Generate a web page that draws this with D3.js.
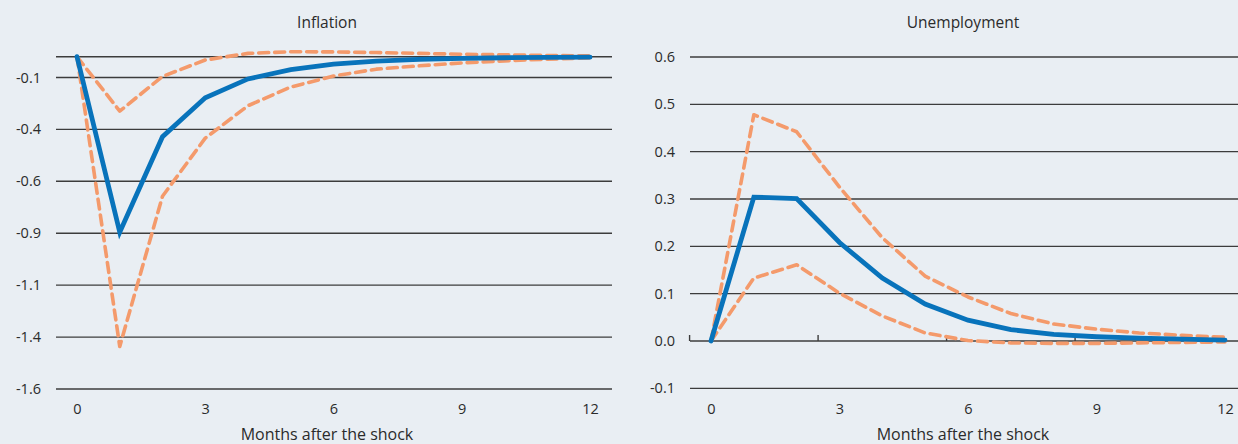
<!DOCTYPE html>
<html>
<head>
<meta charset="utf-8">
<script src="https://cdn.jsdelivr.net/npm/d3@7"></script>
<style>
  html, body { margin: 0; padding: 0; background: #e9eef3; }
  svg { display: block; }
  text { font-family: "Open Sans", "Noto Sans", sans-serif; fill: #2b2b2b; }
</style>
</head>
<body>
<svg id="chart" width="1238" height="444"></svg>
<script>
// Months after the shock
const months = [0, 1, 2, 3, 4, 5, 6, 7, 8, 9, 10, 11, 12];
const xTickValues = [0, 3, 6, 9, 12];

// Inflation response: point estimate and confidence bands
const inflationMid   = [0, -0.845, -0.385, -0.198, -0.107, -0.062, -0.036, -0.021, -0.013, -0.008, -0.005, -0.003, -0.002];
const inflationUpper = [0, -0.262, -0.095, -0.016, 0.016, 0.024, 0.023, 0.020, 0.016, 0.012, 0.009, 0.006, 0.004];
const inflationLower = [0, -1.395, -0.672, -0.392, -0.236, -0.146, -0.093, -0.060, -0.044, -0.030, -0.020, -0.012, -0.006];

// Unemployment response: point estimate and confidence bands
const unempMid   = [0, 0.304, 0.301, 0.208, 0.133, 0.078, 0.044, 0.024, 0.014, 0.009, 0.006, 0.004, 0.002];
const unempUpper = [0, 0.478, 0.442, 0.325, 0.218, 0.137, 0.093, 0.058, 0.036, 0.025, 0.017, 0.012, 0.008];
const unempLower = [0, 0.133, 0.161, 0.101, 0.053, 0.017, 0.001, -0.004, -0.005, -0.005, -0.004, -0.003, -0.002];

// Y gridlines and their labels
const inflationTicks  = [-0.1, -0.35, -0.6, -0.85, -1.1, -1.35, -1.6];
const inflationLabels = ["-0.1", "-0.4", "-0.6", "-0.9", "-1.1", "-1.4", "-1.6"];
const unempTicks  = [0.6, 0.5, 0.4, 0.3, 0.2, 0.1, 0.0, -0.1];
const unempLabels = ["0.6", "0.5", "0.4", "0.3", "0.2", "0.1", "0.0", "-0.1"];

const BLUE = "#0873bb";
const ORANGE = "#f49a6b";
const GRID = "#3c3c3c";
const FONT = "'Open Sans', 'Noto Sans', sans-serif";

const svg = d3.select("#chart");

function panel(opts) {
  const g = svg.append("g");
  const x = d3.scaleLinear().domain([0, 12]).range(opts.xRange);
  const y = d3.scaleLinear().domain(opts.yDomain).range(opts.yRange);

  // horizontal gridlines
  g.selectAll("line.grid")
    .data(opts.gridValues)
    .join("line")
    .attr("class", "grid")
    .attr("x1", opts.gridX[0]).attr("x2", opts.gridX[1])
    .attr("y1", d => y(d)).attr("y2", d => y(d))
    .attr("stroke", GRID).attr("stroke-width", 1.4);

  // y tick labels
  g.selectAll("text.ylab")
    .data(opts.yTicks)
    .join("text")
    .attr("class", "ylab")
    .attr("x", opts.yLabelX)
    .attr("y", d => y(d))
    .attr("dy", "0.35em")
    .attr("text-anchor", "end")
    .style("font-size", "14.5px")
    .text((d, i) => opts.yLabels[i]);

  // x axis tick labels
  const xAxis = d3.axisBottom(x).tickValues(xTickValues).tickSize(0).tickPadding(0);
  const ax = g.append("g").attr("transform", `translate(0,${opts.xLabelY})`).call(xAxis);
  ax.select(".domain").remove();
  ax.selectAll("text")
    .style("font-size", "14.5px")
    .style("font-family", FONT)
    .attr("fill", "#2b2b2b");

  // category tick marks on the zero line
  if (opts.zeroTicks) {
    g.selectAll("line.ztick")
      .data(opts.zeroTicks)
      .join("line")
      .attr("x1", d => x(d)).attr("x2", d => x(d))
      .attr("y1", y(0)).attr("y2", y(0) - 6)
      .attr("stroke", GRID).attr("stroke-width", 1.4);
  }

  // title and axis title
  g.append("text")
    .attr("x", opts.center).attr("y", 28)
    .attr("text-anchor", "middle")
    .style("font-size", "15.5px")
    .text(opts.title);
  g.append("text")
    .attr("x", opts.center).attr("y", 440)
    .attr("text-anchor", "middle")
    .style("font-size", "16px")
    .text("Months after the shock");

  const line = d3.line().x((d, i) => x(months[i])).y(d => y(d));

  [opts.upper, opts.lower].forEach(series => {
    g.append("path")
      .datum(series)
      .attr("d", line)
      .attr("fill", "none")
      .attr("stroke", ORANGE)
      .attr("stroke-width", 3.6)
      .attr("stroke-dasharray", "10,6")
      .attr("stroke-linecap", "round")
      .attr("stroke-linejoin", "round");
  });

  g.append("path")
    .datum(opts.mid)
    .attr("d", line)
    .attr("fill", "none")
    .attr("stroke", BLUE)
    .attr("stroke-width", 4.8)
    .attr("stroke-linejoin", "miter")
    .attr("stroke-linecap", "round");
}

panel({
  title: "Inflation",
  center: 327,
  xRange: [77, 590],
  yDomain: [0, -1.6],
  yRange: [56.7, 389],
  gridValues: [0].concat(inflationTicks),
  gridX: [56, 612],
  yTicks: inflationTicks,
  yLabels: inflationLabels,
  yLabelX: 41,
  xLabelY: 404,
  upper: inflationUpper,
  mid: inflationMid,
  lower: inflationLower
});

panel({
  title: "Unemployment",
  center: 963,
  xRange: [711, 1225],
  yDomain: [0, 0.6],
  yRange: [341, 57],
  gridValues: unempTicks,
  gridX: [690, 1238],
  yTicks: unempTicks,
  yLabels: unempLabels,
  yLabelX: 675,
  xLabelY: 404,
  zeroTicks: [-0.5, 2.5, 5.5, 8.5, 11.5],
  upper: unempUpper,
  mid: unempMid,
  lower: unempLower
});
</script>
</body>
</html>
